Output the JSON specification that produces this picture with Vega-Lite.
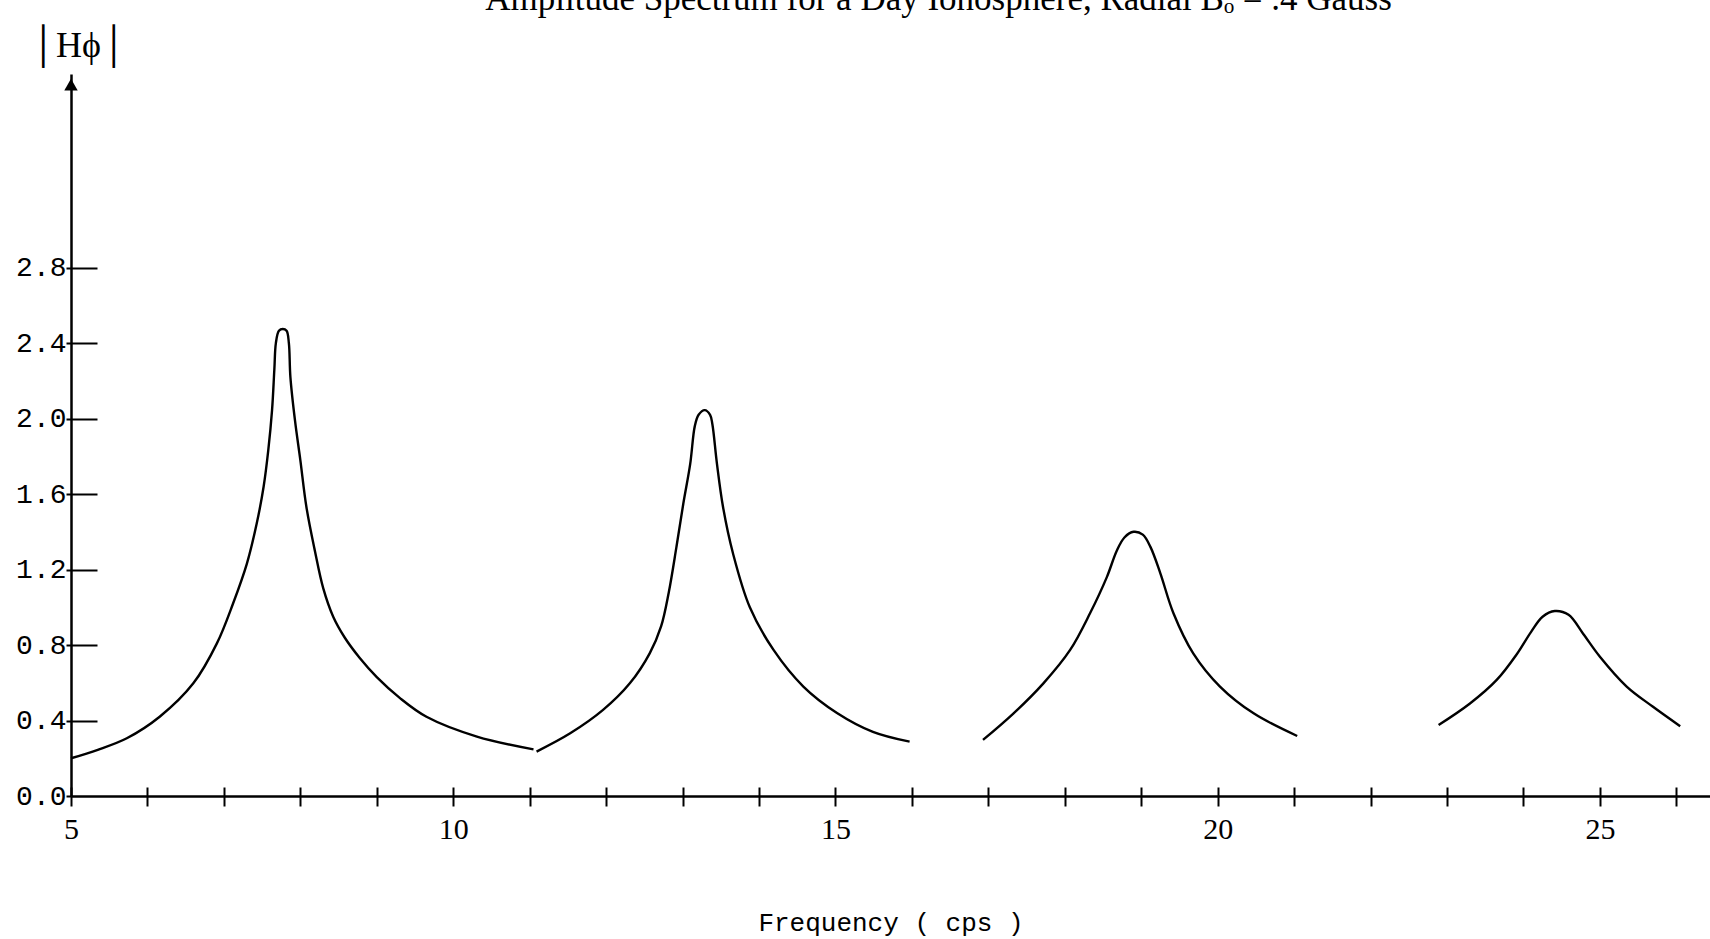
{
  "$schema": "https://vega.github.io/schema/vega-lite/v6.json",
  "autosize": {"type": "none"},
  "width": 1639,
  "height": 722,
  "padding": {"left": 71, "top": 74, "right": 0, "bottom": 143},
  "background": "white",
  "title": {
    "text": "Amplitude Spectrum for a Day Ionosphere,  Radial Bₒ = .4 Gauss",
    "font": "Liberation Serif",
    "fontSize": 35,
    "fontWeight": "normal",
    "color": "black",
    "anchor": "middle",
    "dx": 48,
    "dy": -6
  },
  "config": {
    "view": {"stroke": null},
    "axis": {"grid": false, "domainColor": "black", "tickColor": "black", "labelColor": "black", "titleColor": "black"}
  },
  "datasets": {
    "curve": [
      {"segment": 1, "f": 5.0, "h": 0.2},
      {"segment": 1, "f": 5.35, "h": 0.245},
      {"segment": 1, "f": 5.73, "h": 0.306},
      {"segment": 1, "f": 6.16, "h": 0.42},
      {"segment": 1, "f": 6.6, "h": 0.597},
      {"segment": 1, "f": 6.91, "h": 0.81},
      {"segment": 1, "f": 7.12, "h": 1.02},
      {"segment": 1, "f": 7.3, "h": 1.23},
      {"segment": 1, "f": 7.43, "h": 1.445},
      {"segment": 1, "f": 7.52, "h": 1.64},
      {"segment": 1, "f": 7.58, "h": 1.83},
      {"segment": 1, "f": 7.63, "h": 2.045},
      {"segment": 1, "f": 7.66, "h": 2.26},
      {"segment": 1, "f": 7.68, "h": 2.4},
      {"segment": 1, "f": 7.72, "h": 2.465},
      {"segment": 1, "f": 7.77, "h": 2.475},
      {"segment": 1, "f": 7.82, "h": 2.465},
      {"segment": 1, "f": 7.85, "h": 2.4},
      {"segment": 1, "f": 7.87, "h": 2.22},
      {"segment": 1, "f": 7.93, "h": 1.99},
      {"segment": 1, "f": 8.0, "h": 1.78},
      {"segment": 1, "f": 8.08, "h": 1.53},
      {"segment": 1, "f": 8.19, "h": 1.3},
      {"segment": 1, "f": 8.3, "h": 1.1},
      {"segment": 1, "f": 8.43, "h": 0.95},
      {"segment": 1, "f": 8.58, "h": 0.84},
      {"segment": 1, "f": 8.78, "h": 0.73},
      {"segment": 1, "f": 9.0, "h": 0.63},
      {"segment": 1, "f": 9.3, "h": 0.52},
      {"segment": 1, "f": 9.65, "h": 0.42},
      {"segment": 1, "f": 10.31, "h": 0.315},
      {"segment": 1, "f": 11.05, "h": 0.247},
      {"segment": 2, "f": 11.09, "h": 0.235},
      {"segment": 2, "f": 11.53, "h": 0.332},
      {"segment": 2, "f": 11.96, "h": 0.456},
      {"segment": 2, "f": 12.31, "h": 0.597},
      {"segment": 2, "f": 12.57, "h": 0.756},
      {"segment": 2, "f": 12.72, "h": 0.9},
      {"segment": 2, "f": 12.82, "h": 1.08},
      {"segment": 2, "f": 12.92, "h": 1.32},
      {"segment": 2, "f": 13.01, "h": 1.55},
      {"segment": 2, "f": 13.1, "h": 1.76},
      {"segment": 2, "f": 13.16, "h": 1.96},
      {"segment": 2, "f": 13.21, "h": 2.02},
      {"segment": 2, "f": 13.29, "h": 2.045},
      {"segment": 2, "f": 13.36, "h": 2.02},
      {"segment": 2, "f": 13.39, "h": 1.97},
      {"segment": 2, "f": 13.45, "h": 1.76},
      {"segment": 2, "f": 13.53, "h": 1.53},
      {"segment": 2, "f": 13.66, "h": 1.285},
      {"segment": 2, "f": 13.88, "h": 1.0},
      {"segment": 2, "f": 14.19, "h": 0.774},
      {"segment": 2, "f": 14.58, "h": 0.58},
      {"segment": 2, "f": 15.02, "h": 0.44},
      {"segment": 2, "f": 15.49, "h": 0.34},
      {"segment": 2, "f": 15.97, "h": 0.288},
      {"segment": 3, "f": 16.93, "h": 0.297},
      {"segment": 3, "f": 17.33, "h": 0.438},
      {"segment": 3, "f": 17.72, "h": 0.597},
      {"segment": 3, "f": 18.07, "h": 0.774},
      {"segment": 3, "f": 18.33, "h": 0.968},
      {"segment": 3, "f": 18.55, "h": 1.16},
      {"segment": 3, "f": 18.68, "h": 1.3},
      {"segment": 3, "f": 18.78, "h": 1.37},
      {"segment": 3, "f": 18.9, "h": 1.4},
      {"segment": 3, "f": 19.02, "h": 1.385},
      {"segment": 3, "f": 19.12, "h": 1.32},
      {"segment": 3, "f": 19.25, "h": 1.18},
      {"segment": 3, "f": 19.42, "h": 0.97},
      {"segment": 3, "f": 19.68, "h": 0.756},
      {"segment": 3, "f": 20.03, "h": 0.58},
      {"segment": 3, "f": 20.47, "h": 0.438},
      {"segment": 3, "f": 21.04, "h": 0.318},
      {"segment": 4, "f": 22.89, "h": 0.376},
      {"segment": 4, "f": 23.3, "h": 0.49},
      {"segment": 4, "f": 23.65, "h": 0.615},
      {"segment": 4, "f": 23.91, "h": 0.75},
      {"segment": 4, "f": 24.1, "h": 0.87},
      {"segment": 4, "f": 24.25, "h": 0.95},
      {"segment": 4, "f": 24.41, "h": 0.98},
      {"segment": 4, "f": 24.59, "h": 0.96},
      {"segment": 4, "f": 24.78, "h": 0.86},
      {"segment": 4, "f": 25.0, "h": 0.738},
      {"segment": 4, "f": 25.35, "h": 0.58},
      {"segment": 4, "f": 25.69, "h": 0.474},
      {"segment": 4, "f": 26.05, "h": 0.37}
    ],
    "arrow": [
      {"f": 5, "h": 3.77}
    ]
  },
  "layer": [
    {
      "data": {"name": "curve"},
      "mark": {"type": "line", "interpolate": "catmull-rom", "color": "black", "strokeWidth": 2.4},
      "encoding": {
        "x": {
          "field": "f", "type": "quantitative",
          "scale": {"domain": [5, 26.44], "nice": false, "zero": false},
          "axis": {
            "orient": "bottom",
            "values": [5,6,7,8,9,10,11,12,13,14,15,16,17,18,19,20,21,22,23,24,25,26],
            "labelExpr": "datum.value % 5 === 0 ? datum.value : ''",
            "labelFlush": false,
            "labelFont": "Liberation Serif", "labelFontSize": 30, "labelPadding": 8,
            "tickSize": 10, "tickWidth": 2, "domainWidth": 2.5,
            "title": "Frequency ( cps )", "titleFont": "Liberation Mono", "titleFontSize": 26,
            "titleFontWeight": "normal", "titlePadding": 65
          }
        },
        "y": {
          "field": "h", "type": "quantitative",
          "scale": {"domain": [0, 3.826], "nice": false},
          "axis": {
            "orient": "left",
            "values": [0, 0.4, 0.8, 1.2, 1.6, 2.0, 2.4, 2.8],
            "format": ".1f",
            "labelFont": "Liberation Mono", "labelFontSize": 28, "labelPadding": 0,
            "labelBaseline": "middle",
            "tickSize": 5, "tickWidth": 2, "domainWidth": 2.5,
            "title": "│Hϕ│", "titleFont": "Liberation Serif", "titleFontSize": 36,
            "titleFontWeight": "normal", "titleAngle": 0, "titleAlign": "center",
            "titleBaseline": "middle", "titleX": 7, "titleY": -29
          }
        },
        "detail": {"field": "segment", "type": "nominal"}
      }
    },
    {
      "data": {"name": "arrow"},
      "mark": {"type": "point", "shape": "triangle-up", "filled": true, "color": "black", "size": 180, "opacity": 1},
      "encoding": {
        "x": {
          "field": "f", "type": "quantitative",
          "axis": {
            "orient": "bottom",
            "values": [5,6,7,8,9,10,11,12,13,14,15,16,17,18,19,20,21,22,23,24,25,26],
            "labels": false, "domain": false, "tickSize": -9, "tickWidth": 2, "title": null
          }
        },
        "y": {
          "field": "h", "type": "quantitative",
          "axis": {
            "orient": "left",
            "values": [0.4, 0.8, 1.2, 1.6, 2.0, 2.4, 2.8],
            "labels": false, "domain": false, "tickSize": -26, "tickWidth": 2, "title": null
          }
        }
      }
    }
  ],
  "resolve": {"axis": {"x": "independent", "y": "independent"}}
}
